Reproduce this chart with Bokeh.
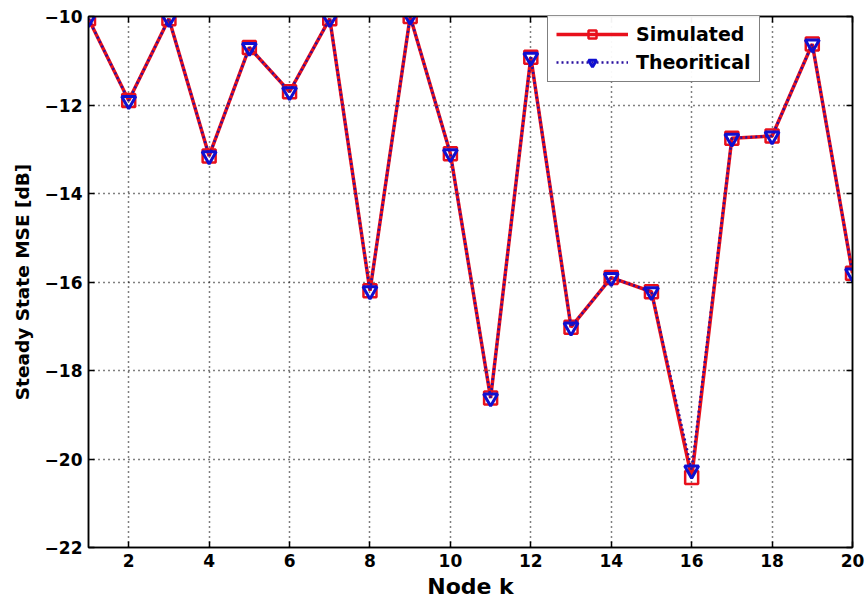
from bokeh.plotting import figure
from bokeh.models import LinearAxis, Range1d, FixedTicker, Legend, LegendItem
from bokeh.embed import file_html
from bokeh.resources import INLINE

# Steady-state MSE per node (dB)
nodes = list(range(1, 21))
simulated = [-10.05, -11.9, -10.05, -13.15, -10.7, -11.7, -10.05, -16.2, -10.0, -13.1,
             -18.62, -10.92, -17.02, -15.9, -16.22, -20.42, -12.75, -12.7, -10.62, -15.8]
theoretical = [-10.05, -11.9, -10.05, -13.15, -10.7, -11.7, -10.05, -16.2, -10.0, -13.1,
               -18.62, -10.92, -17.02, -15.9, -16.22, -20.25, -12.75, -12.7, -10.62, -15.8]
x_ticks = [2, 4, 6, 8, 10, 12, 14, 16, 18, 20]
y_ticks = [-22, -20, -18, -16, -14, -12, -10]

FONT = "DejaVu Sans"

p = figure(width=865, height=607, output_backend="svg", toolbar_location=None,
           x_range=Range1d(1, 20), y_range=Range1d(-22, -10),
           min_border_left=88, min_border_right=13, min_border_top=16, min_border_bottom=60)
p.background_fill_color = "white"
p.border_fill_color = "white"
p.outline_line_color = "black"
p.outline_line_width = 1.5

for ax in (p.xaxis[0], p.yaxis[0]):
    ax.major_tick_in = 6
    ax.major_tick_out = 0
    ax.minor_tick_in = 0
    ax.minor_tick_out = 0
    ax.axis_line_width = 1.5
    ax.major_tick_line_width = 1.5
    ax.major_label_text_font = FONT
    ax.major_label_text_font_style = "bold"
    ax.major_label_text_font_size = "17px"
    ax.major_label_text_color = "black"
    ax.axis_label_text_font = FONT
    ax.axis_label_text_font_style = "bold"
    ax.axis_label_text_color = "black"

p.xaxis.ticker = FixedTicker(ticks=x_ticks)
p.yaxis.ticker = FixedTicker(ticks=y_ticks)
p.xaxis.axis_label = "Node k"
p.xaxis.axis_label_text_font_size = "22px"
p.xaxis.axis_label_standoff = 4
p.xaxis.major_label_standoff = 6
p.yaxis.axis_label = "Steady State MSE [dB]"
p.yaxis.axis_label_text_font_size = "18.5px"
p.yaxis.axis_label_standoff = 9
p.yaxis.major_label_standoff = 6

# box ticks on the top and right sides
top = LinearAxis(ticker=FixedTicker(ticks=x_ticks), major_label_text_alpha=0,
                 major_label_text_font_size="1px", major_tick_in=6, major_tick_out=0,
                 minor_tick_in=0, minor_tick_out=0, axis_line_width=1.5, major_tick_line_width=1.5)
right = LinearAxis(ticker=FixedTicker(ticks=y_ticks), major_label_text_alpha=0,
                   major_label_text_font_size="1px", major_tick_in=6, major_tick_out=0,
                   minor_tick_in=0, minor_tick_out=0, axis_line_width=1.5, major_tick_line_width=1.5)
p.add_layout(top, "above")
p.add_layout(right, "right")

for g in (p.xgrid[0], p.ygrid[0]):
    g.grid_line_color = "black"
    g.grid_line_dash = "1 4"
    g.grid_line_width = 1.5
p.xgrid.ticker = FixedTicker(ticks=x_ticks[:-1])
p.ygrid.ticker = FixedTicker(ticks=y_ticks[1:-1])

sim_line = p.line(nodes, simulated, line_color="#e8101c", line_width=3.5)
sim_mark = p.scatter(nodes, simulated, marker="square", size=13, line_color="#e8101c",
                     line_width=2.5, fill_alpha=0)
th_line = p.line(nodes, theoretical, line_color="#2a10a0", line_width=2.5, line_dash="2 3")
th_mark = p.scatter(nodes, theoretical, marker="inverted_triangle", size=14, line_color="#1010d0",
                    line_width=3, fill_alpha=0)

legend = Legend(items=[LegendItem(label="Simulated", renderers=[sim_line, sim_mark]),
                       LegendItem(label="Theoritical", renderers=[th_line, th_mark])],
                location=(459, 465))
legend.label_text_font = FONT
legend.label_text_font_style = "bold"
legend.label_text_font_size = "19px"
legend.label_text_color = "black"
legend.glyph_width = 72
legend.glyph_height = 20
legend.label_height = 20
legend.spacing = 6
legend.padding = 8
legend.margin = 0
legend.border_line_color = "black"
legend.border_line_width = 1.5
legend.label_standoff = 8
p.add_layout(legend, "center")

open("out.html", "w").write(file_html(p, INLINE))
